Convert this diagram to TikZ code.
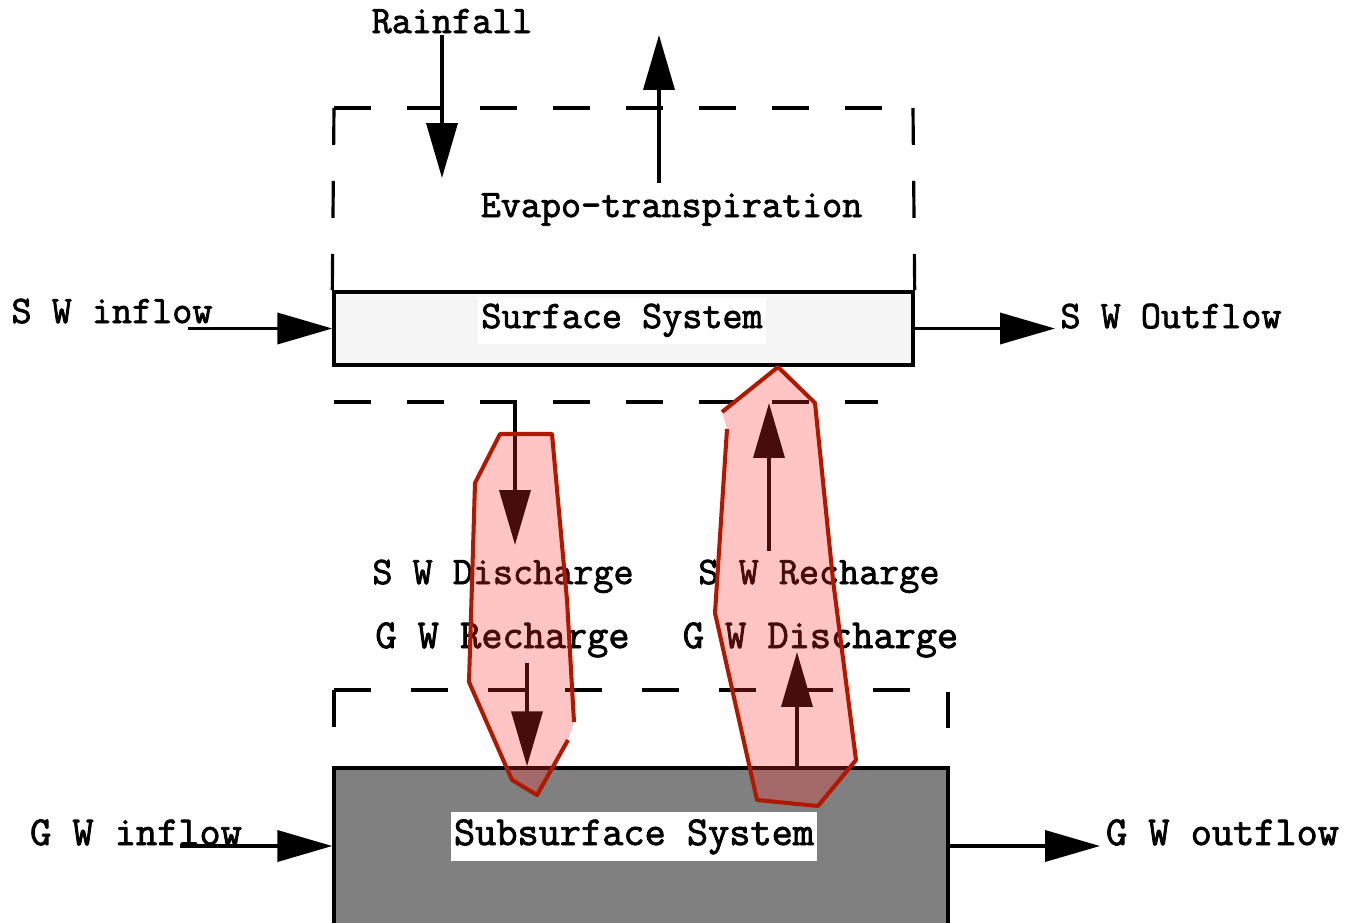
\documentclass[tikz,border=0pt]{standalone}
\usepackage{fontspec}
\setmonofont[FakeBold=2]{Latin Modern Mono}
\usetikzlibrary{arrows.meta}

\definecolor{surffill}{HTML}{F5F5F5}
\definecolor{subfill}{HTML}{808080}
\definecolor{zoneline}{HTML}{B01800}
\definecolor{zonefill}{HTML}{FF2E2E}

\tikzset{
  lbl/.style={font=\ttfamily\fontsize{22.2}{24}\selectfont, inner sep=0pt, anchor=base},
  lblbig/.style={lbl, font=\ttfamily\fontsize{23.4}{25}\selectfont},
  flow/.style={line width=2.1pt, -{Triangle[length=1.1cm, width=0.62cm]}},
  bnd/.style={line width=1.8pt, dash pattern=on 0.74cm off 0.72cm},
  bndlow/.style={line width=1.8pt, dash pattern=on 0.74cm off 0.80cm},
  sysbox/.style={draw, line width=2pt, inner sep=0pt},
  tag/.style={fill=white, inner xsep=0.06cm, inner ysep=4pt},
  zone/.style={fill=zonefill, fill opacity=0.28},
  zoneedge/.style={draw=zoneline, line width=2.3pt, line join=round}
}

\begin{document}
\begin{tikzpicture}[x=0.02cm, y=-0.02cm]
  \useasboundingbox (0,0) rectangle (1347,923);
  \clip (0,0) rectangle (1347,923);

  % Системы
  \node[sysbox, fill=surffill, minimum width=11.58cm, minimum height=1.46cm] (surf) at (623.5,328.5) {};
  \node[sysbox, fill=subfill, minimum width=12.28cm, minimum height=3.34cm] (subs) at (641,851.5) {};
  \node[lbl, tag] (surflbl) at (622,328) {Surface System};
  \node[lblbig, tag] (subslbl) at (634,845) {Subsurface System};

  % Границы (пунктир)
  \coordinate (ul) at (334,108);
  \coordinate (ur) at (913,108);
  \draw[bnd] (ul) -- (surf.north west);
  \draw[bnd] (ul) -- (ur);
  \draw[bnd] (ur) -- (surf.north east);
  \coordinate (ml) at (334,402);
  \coordinate (mr) at (878,402);
  \draw[bnd] (ml) -- (mr);
  \coordinate (ll) at (334,690);
  \coordinate (lr) at (948,690);
  \draw[bndlow] (ll) -- (334,728);
  \draw[bndlow] (ll) -- (lr) -- (948,728);

  % Подписи
  \node[lbl] (rain) at (452,33) {Rainfall};
  \node[lbl] (evap) at (671.5,217) {Evapo-transpiration};
  \node[lbl] (swin) at (112,323) {S W inflow};
  \node[lbl] (swout) at (1171,328) {S W Outflow};
  \node[lbl] (swdis) at (503,584) {S W Discharge};
  \node[lbl] (swrec) at (819,584) {S W Recharge};
  \node[lblbig] (gwrec) at (502.5,648) {G W Recharge};
  \node[lblbig] (gwdis) at (820.5,648) {G W Discharge};
  \node[lblbig] (gwin) at (136,845) {G W inflow};
  \node[lblbig] (gwout) at (1222.5,845) {G W outflow};

  % Потоки
  \coordinate (rtop) at (442,35);
  \coordinate (rbot) at (442,178);
  \draw[flow] (rtop) -- (rbot);
  \coordinate (etop) at (659,35);
  \coordinate (ebot) at (659,183);
  \draw[flow] (ebot) -- (etop);
  \coordinate (swa) at (188,328.5);
  \draw[flow] (swa) -- (surf.west);
  \coordinate (swb) at (1055,328.5);
  \draw[flow] (surf.east) -- (swb);
  \coordinate (gwa) at (180,846);
  \draw[flow] (gwa) -- (gwa -| subs.west);
  \coordinate (gwb) at (1100,846);
  \draw[flow] (gwb -| subs.east) -- (gwb);

  \coordinate (da) at (515,402);
  \coordinate (db) at (515,545);
  \draw[flow] (da) -- (db);
  \coordinate (ua) at (769,551);
  \coordinate (ub) at (769,403);
  \draw[flow] (ua) -- (ub);
  \coordinate (dc) at (527,663);
  \draw[flow] (dc) -- (dc |- subs.north);
  \coordinate (uc) at (797,652);
  \draw[flow] (uc |- subs.north) -- (uc);

  % Зоны обмена
  \fill[zone] (568,740) -- (537,795) -- (512,780) -- (469,682) -- (475,483) -- (500,434)
    -- (552,434) -- (567,600) -- (574,722) -- cycle;
  \draw[zoneedge] (568,740) -- (537,795) -- (512,780) -- (469,682) -- (475,483) -- (500,434)
    -- (552,434) -- (567,600) -- (574,722);
  \fill[zone] (727,429) -- (715,613) -- (757,800) -- (818,806) -- (856,760) -- (833,580)
    -- (815,403) -- (778,367) -- (722,412) -- cycle;
  \draw[zoneedge] (727,429) -- (715,613) -- (757,800) -- (818,806) -- (856,760) -- (833,580)
    -- (815,403) -- (778,367) -- (722,412);
\end{tikzpicture}
\end{document}
